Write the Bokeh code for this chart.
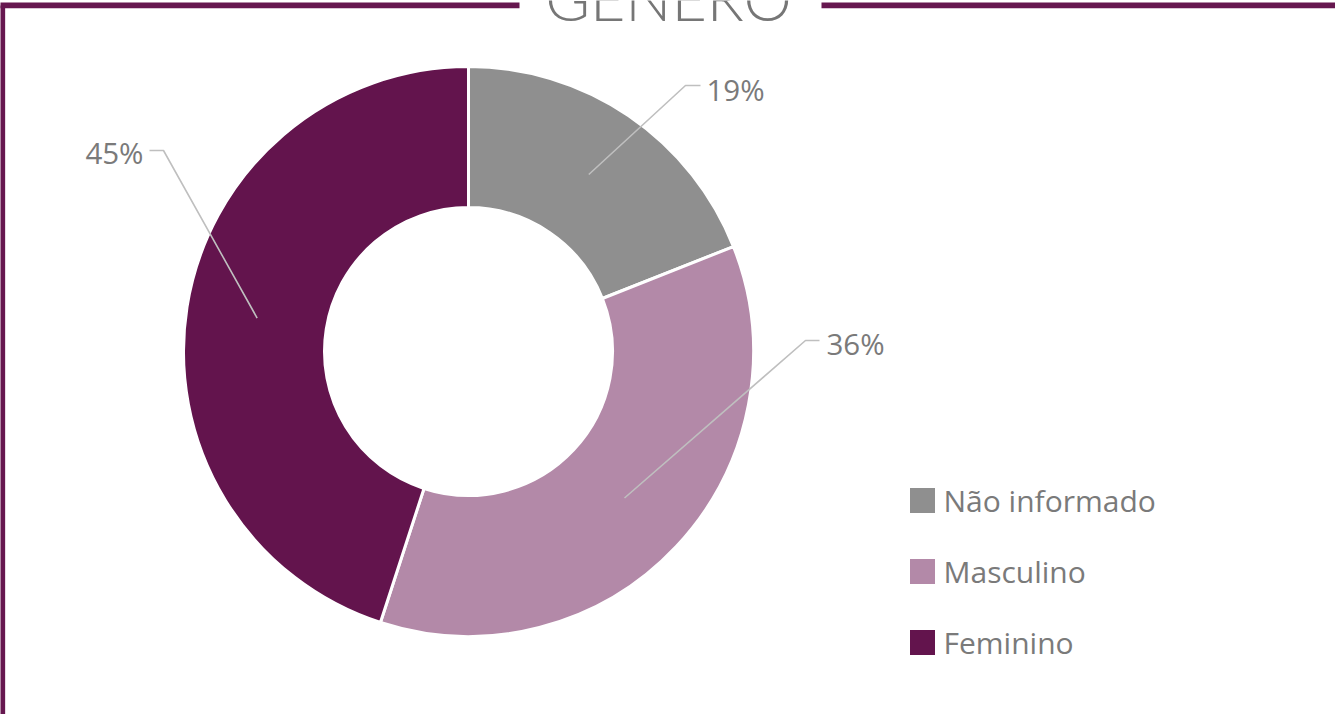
import math
from bokeh.plotting import figure
from bokeh.models import Range1d, ColumnDataSource
from bokeh.core.properties import value
from bokeh.embed import file_html
from bokeh.resources import INLINE

# ---- data ----
categories = ["Não informado", "Masculino", "Feminino"]
percentages = [19, 36, 45]
colors = ["#8f8f8f", "#b389a8", "#63144d"]
title_text = "GÊNERO"

# ---- layout (screen pixel coordinates; y is negated) ----
W, H = 1335, 714
cx, cy = 476, -359
r_in, r_out = 144, 285
r_lead = 214

# label anchor / elbow positions (layout only)
elbow_x = [693, 813, 171]
elbow_y = [-93, -348, -158]
tail_x = [708, 827, 157]
label_x = [714, 834, 151]
label_y = [-97, -351, -160]
label_align = ["left", "left", "right"]

p = figure(width=W, height=H, output_backend="svg", toolbar_location=None,
           x_range=Range1d(8, 8 + W), y_range=Range1d(-8 - H, -8),
           x_axis_location=None, y_axis_location=None, min_border=0)
p.grid.visible = False
p.outline_line_color = None
p.background_fill_color = "white"
p.border_fill_color = "white"

# frame
frame_col = "#66174f"
p.line(x=[9.8, 9.8], y=[-12.9, -740], line_color=frame_col, line_width=5.7)
p.line(x=[7, 527], y=[-12.9, -12.9], line_color=frame_col, line_width=5.7)
p.line(x=[829, 1360], y=[-12.9, -12.9], line_color=frame_col, line_width=5.7)

# title (cut off at the top edge, as in the reference)
p.text(x=[676], y=[-5], text=[title_text], text_align="center",
       text_baseline="alphabetic", text_color="#767676",
       text_font=value("Lato Light"), text_font_size="61px")

# donut
total = sum(percentages)
starts, ends, mids = [], [], []
cum = 0
for v in percentages:
    a1 = 90 - cum / total * 360
    cum += v
    a2 = 90 - cum / total * 360
    starts.append(math.radians(a2))
    ends.append(math.radians(a1))
    mids.append(math.radians((a1 + a2) / 2))

src = ColumnDataSource(dict(start=starts, end=ends, color=colors, cat=categories))
p.annular_wedge(x=cx, y=cy, inner_radius=r_in, outer_radius=r_out,
                start_angle="start", end_angle="end", fill_color="color",
                line_color="white", line_width=3, source=src)

# leader lines and labels
lead_col = "#bfbfbf"
for i, v in enumerate(percentages):
    sx = cx + r_lead * math.cos(mids[i])
    sy = cy + r_lead * math.sin(mids[i])
    p.line(x=[sx, elbow_x[i], tail_x[i]], y=[sy, elbow_y[i], elbow_y[i]],
           line_color=lead_col, line_width=1.6)
    p.text(x=[label_x[i]], y=[label_y[i]], text=[f"{v}%"], text_align=label_align[i],
           text_baseline="middle", text_color="#7a7a7a",
           text_font=value("Open Sans"), text_font_size="29.5px")

# legend
leg_x = 930
leg_y = [-508, -579, -650]
p.rect(x=[leg_x] * 3, y=leg_y, width=25, height=25, fill_color=colors, line_color=None)
p.text(x=[951] * 3, y=leg_y, text=categories, text_align="left", text_baseline="middle",
       text_color="#7a7a7a", text_font=value("Open Sans"), text_font_size="30px")

open("out.html", "w").write(file_html(p, INLINE))
